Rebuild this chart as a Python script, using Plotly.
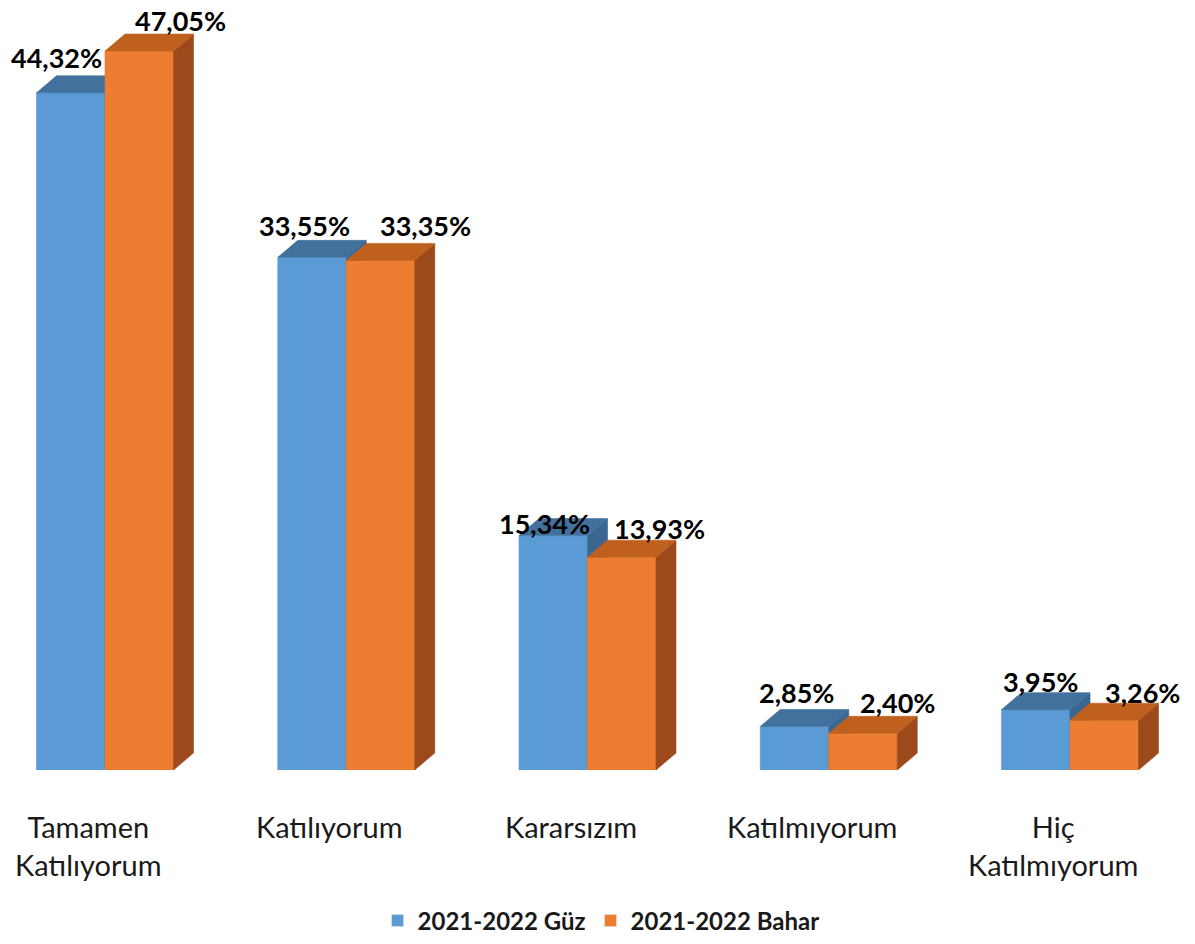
import plotly.graph_objects as go

# ---------------- data ----------------
categories = ["Tamamen<br>Katılıyorum", "Katılıyorum", "Kararsızım", "Katılmıyorum", "Hiç<br>Katılmıyorum"]
series_names = ["2021-2022 Güz", "2021-2022 Bahar"]
guz = [44.32, 33.55, 15.34, 2.85, 3.95]
bahar = [47.05, 33.35, 13.93, 2.40, 3.26]

# ---------------- style / geometry ----------------
W, H = 1195, 944
MARGIN_B = 174
PX_PER_X = 241.25          # pixels per category step
PX_PER_Y = 15.28           # pixels per percentage point
X0_PX = 105                # pixel of first category centre
BAR_W = 68.5 / PX_PER_X    # width of one bar in axis units
DX = 20 / PX_PER_X         # 3-D depth offset (x)
DY = 17 / PX_PER_Y         # 3-D depth offset (y)

colors = {
    "front": ["#5B9BD5", "#ED7D31"],
    "top": ["#41719C", "#C0601F"],
    "side": ["#3B6690", "#9C4A1B"],
}

# label nudges in pixels (blue, orange)
lbl_dx = [[-14, -8, -9, 2, 5], [41, 45, 38, 34, 38]]
lbl_dy = [[35, 32, 12, 34, 28], [31, 35, 29, 31, 28]]

FONT = "Lato"

fig = go.Figure()

def poly(xs, ys, color):
    fig.add_trace(go.Scatter(
        x=xs + [xs[0]], y=ys + [ys[0]], mode="lines", fill="toself",
        fillcolor=color, line=dict(color=color, width=0.6),
        hoverinfo="skip", showlegend=False))

series = [guz, bahar]
for i in range(len(categories)):
    for s, vals in enumerate(series):
        v = vals[i]
        x0 = i - BAR_W + s * BAR_W
        x1 = x0 + BAR_W
        # front
        poly([x0, x1, x1, x0], [0, 0, v, v], colors["front"][s])
        # side
        poly([x1, x1 + DX, x1 + DX, x1], [0, DY, v + DY, v], colors["side"][s])
        # top
        poly([x0, x1, x1 + DX, x0 + DX], [v, v, v + DY, v + DY], colors["top"][s])

# legend entries
for s, name in enumerate(series_names):
    fig.add_trace(go.Bar(x=[None], y=[None], name=name,
                         marker=dict(color=colors["front"][s]), showlegend=True))

annotations = []
for s, vals in enumerate(series):
    for i, v in enumerate(vals):
        xc = i - BAR_W / 2 + s * BAR_W
        annotations.append(dict(
            x=xc, y=v, xref="x", yref="y",
            text=f"{v:.2f}".replace(".", ",") + "%",
            showarrow=False, xanchor="center", yanchor="middle",
            xshift=lbl_dx[s][i], yshift=lbl_dy[s][i],
            font=dict(family=FONT, size=27, color="#000000", weight="bold")))

for i, c in enumerate(categories):
    annotations.append(dict(
        x=i, y=0, xref="x", yref="y", text=c, showarrow=False,
        xanchor="center", yanchor="top", xshift=-17, yshift=-37,
        align="center",
        font=dict(family=FONT, size=29, color="#1a1a1a")))

plot_h = H - MARGIN_B
fig.update_layout(
    width=W, height=H,
    margin=dict(l=0, r=0, t=0, b=MARGIN_B),
    paper_bgcolor="white", plot_bgcolor="white",
    xaxis=dict(range=[-X0_PX / PX_PER_X, (W - X0_PX) / PX_PER_X],
               visible=False, fixedrange=True),
    yaxis=dict(range=[0, plot_h / PX_PER_Y], visible=False, fixedrange=True),
    showlegend=True,
    legend=dict(orientation="h", x=0.503, xanchor="center",
                y=(plot_h - 921) / plot_h, yanchor="middle",
                font=dict(family=FONT, size=24, color="#1a1a1a", weight="bold"),
                itemwidth=30),
    annotations=annotations,
)

fig.write_html("out.html", config={"displayModeBar": False},
               post_script="document.body.style.margin='0';")
